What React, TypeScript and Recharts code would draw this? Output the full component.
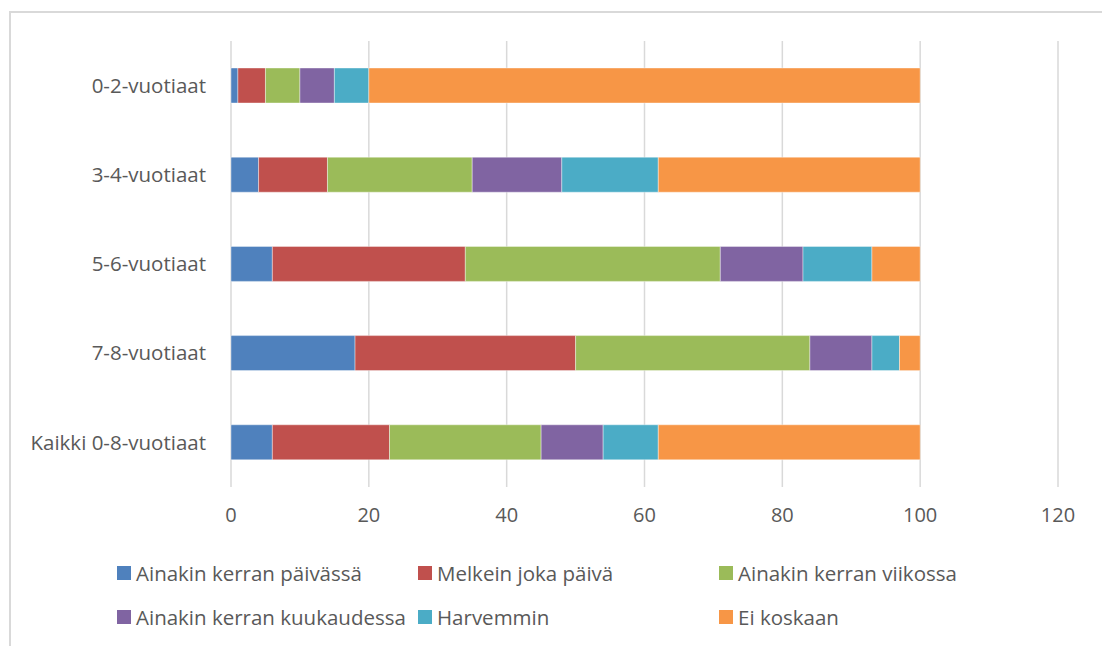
import { Bar, BarChart, CartesianGrid, XAxis, YAxis } from "recharts"

const groups = ["0-2-vuotiaat", "3-4-vuotiaat", "5-6-vuotiaat", "7-8-vuotiaat", "Kaikki 0-8-vuotiaat"]
const seriesNames = [
  "Ainakin kerran päivässä",
  "Melkein joka päivä",
  "Ainakin kerran viikossa",
  "Ainakin kerran kuukaudessa",
  "Harvemmin",
  "Ei koskaan",
]
const colors = ["#4f81bd", "#c0504d", "#9bbb59", "#8064a2", "#4bacc6", "#f79646"]

// one array per series, in the order of groups
const daily = [1, 4, 6, 18, 6]
const almostDaily = [4, 10, 28, 32, 17]
const weekly = [5, 21, 37, 34, 22]
const monthly = [5, 13, 12, 9, 9]
const rarely = [5, 14, 10, 4, 8]
const never = [80, 38, 7, 3, 38]
const xTicks = [0, 20, 40, 60, 80, 100, 120]

const seriesValues = [daily, almostDaily, weekly, monthly, rarely, never]
const keys = ["s0", "s1", "s2", "s3", "s4", "s5"]

const rows = groups.map((g, i) => {
  const row: Record<string, string | number> = { group: g }
  keys.forEach((k, j) => {
    row[k] = seriesValues[j][i]
  })
  return row
})

const font = "'Open Sans', sans-serif"

export default function App() {
  return (
    <div style={{ position: "absolute", left: 0, top: 0, width: 1102, height: 646, overflow: "hidden", background: "#fff", fontFamily: font }}>
      <div style={{ position: "absolute", left: 9, top: 11, width: 1200, height: 800, borderLeft: "2px solid #d9d9d9", borderTop: "2px solid #d9d9d9" }} />
      <BarChart
        width={1102}
        height={646}
        data={rows}
        layout="vertical"
        margin={{ top: 41, right: 44, bottom: 119, left: 0 }}
        barSize={35}
      >
        <CartesianGrid horizontal={false} stroke="#d9d9d9" strokeWidth={1.5} />
        <XAxis
          type="number"
          domain={[0, 120]}
          ticks={xTicks}
          axisLine={false}
          tickLine={false}
          tickSize={0}
          tickMargin={21}
          height={40}
          tick={{ fill: "#595959", fontSize: 20, fontFamily: font }}
        />
        <YAxis
          type="category"
          dataKey="group"
          width={231}
          axisLine={false}
          tickLine={false}
          tickSize={0}
          tickMargin={25}
          tick={{ fill: "#595959", fontSize: 20.5, fontFamily: font }}
        />
        {keys.map((k, j) => (
          <Bar key={k} dataKey={k} stackId="a" fill={colors[j]} stroke="#ffffff" strokeWidth={0.4} isAnimationActive={false} />
        ))}
      </BarChart>
      {seriesNames.map((name, j) => {
        const col = j % 3
        const rowIdx = Math.floor(j / 3)
        return (
          <div
            key={name}
            style={{
              position: "absolute",
              left: 117 + col * 301,
              top: 558 + rowIdx * 44,
              height: 30,
              display: "flex",
              alignItems: "center",
              fontSize: 20.5,
              color: "#595959",
              whiteSpace: "nowrap",
            }}
          >
            <span style={{ display: "inline-block", width: 14, height: 14, background: colors[j], marginRight: 5 }} />
            {name}
          </div>
        )
      })}
    </div>
  )
}
